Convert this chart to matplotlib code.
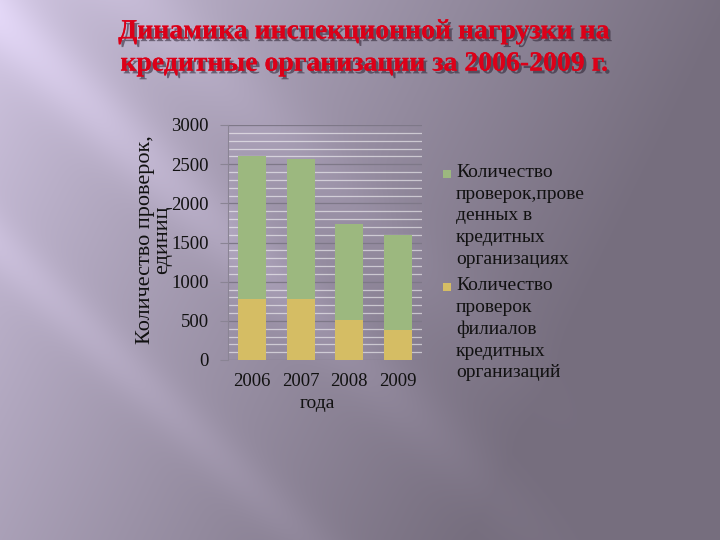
import numpy as np
import matplotlib
matplotlib.use("Agg")
import matplotlib.pyplot as plt
from matplotlib import patheffects
from matplotlib.patches import Rectangle

# данные с графика
years = ["2006", "2007", "2008", "2009"]
branches = [775, 778, 510, 383]          # проверки филиалов
in_banks = [1829, 1785, 1222, 1213]      # проверки в кредитных организациях
legend_labels = ["Количество\nпроверок,прове\nденных в\nкредитных\nорганизациях",
                 "Количество\nпроверок\nфилиалов\nкредитных\nорганизаций"]
title = "Динамика инспекционной нагрузки на\nкредитные организации за 2006-2009 г."

green = "#9cb87f"
yellow = "#d5bd64"
serif = ["Liberation Serif", "DejaVu Serif"]

fig = plt.figure(figsize=(7.2, 5.4), dpi=100)

# фон слайда: градиент с диагональными бликами
bg = fig.add_axes([0, 0, 1, 1])
yy, xx = np.mgrid[0:540, 0:720]
u, v = xx / 720.0, yy / 540.0
t = np.clip(0.95 * u + 0.35 * v + 0.03, 0, 1) ** 0.8
light = np.array([214, 203, 232]) / 255.0
dark = np.array([118, 110, 126]) / 255.0
img = light * (1 - t[..., None]) + dark * t[..., None]
d = (xx - 1.05 * yy)
glow = 0.09 * np.exp(-((d + 20) / 45.0) ** 2) + 0.06 * np.exp(-((d + 260) / 35.0) ** 2) \
    + 0.05 * np.exp(-((d - 140) / 50.0) ** 2)
glow *= np.clip(1.2 - u * 1.4, 0, 1)
img = np.clip(img + glow[..., None] * np.array([0.9, 0.85, 1.0]), 0, 1)
bg.imshow(img, aspect="auto", extent=[0, 1, 0, 1], origin="upper")
bg.set_axis_off()

fig.text(364 / 720, 1 - 48 / 540, title, ha="center", va="center",
         fontsize=20, fontweight="bold", family=serif, color="#dc0018",
         linespacing=1.38,
         path_effects=[patheffects.withSimplePatchShadow(offset=(2, -2), shadow_rgbFace="#2a2030", alpha=0.55),
                       patheffects.Normal()])

ax = fig.add_axes([228 / 720, 1 - 360 / 540, 194 / 720, 235 / 540])
ax.patch.set_alpha(0)
x = np.arange(len(years))
ax.bar(x, branches, width=0.57, color=yellow, zorder=3)
ax.bar(x, in_banks, width=0.57, bottom=branches, color=green, zorder=3)

ax.set_xlim(-0.5, len(years) - 0.5)
ax.set_ylim(0, 3000)
ax.set_yticks(range(0, 3001, 500))
ax.set_yticks(range(0, 3001, 100), minor=True)
ax.grid(axis="y", which="minor", color="white", alpha=0.55, linewidth=0.9, zorder=1)
ax.grid(axis="y", which="major", color="#7e7888", linewidth=0.9, zorder=2)
ax.set_xticks(x)
ax.set_xticklabels(years)
for s in ["top", "right", "bottom"]:
    ax.spines[s].set_visible(False)
ax.spines["left"].set_color("#8a8494")
ax.tick_params(axis="y", which="major", length=6, color="#8a8494", pad=8,
               labelsize=13.5, labelcolor="#111111")
ax.tick_params(axis="y", which="minor", length=0)
ax.tick_params(axis="x", length=0, pad=9, labelsize=13.5, labelcolor="#111111")
for lbl in ax.get_xticklabels() + ax.get_yticklabels():
    lbl.set_family(serif)

fig.text(154 / 720, 1 - 240 / 540, "Количество проверок,\nединиц", rotation=90,
         ha="center", va="center", multialignment="center", fontsize=16,
         family=serif, color="#111111", linespacing=0.92)
fig.text(317 / 720, 1 - 403 / 540, "года", ha="center", va="center",
         fontsize=14, family=serif, color="#111111")

# легенда справа
for label, color, top in zip(legend_labels, [green, yellow], [164, 277]):
    fig.text(456 / 720, 1 - top / 540, label, ha="left", va="top", fontsize=14,
             family=serif, color="#111111", linespacing=1.36)
    fig.patches.append(Rectangle((443 / 720, 1 - (top + 14) / 540), 8 / 720, 8 / 540,
                                 transform=fig.transFigure, facecolor=color,
                                 edgecolor="none"))

fig.savefig("out.png", dpi=100)
